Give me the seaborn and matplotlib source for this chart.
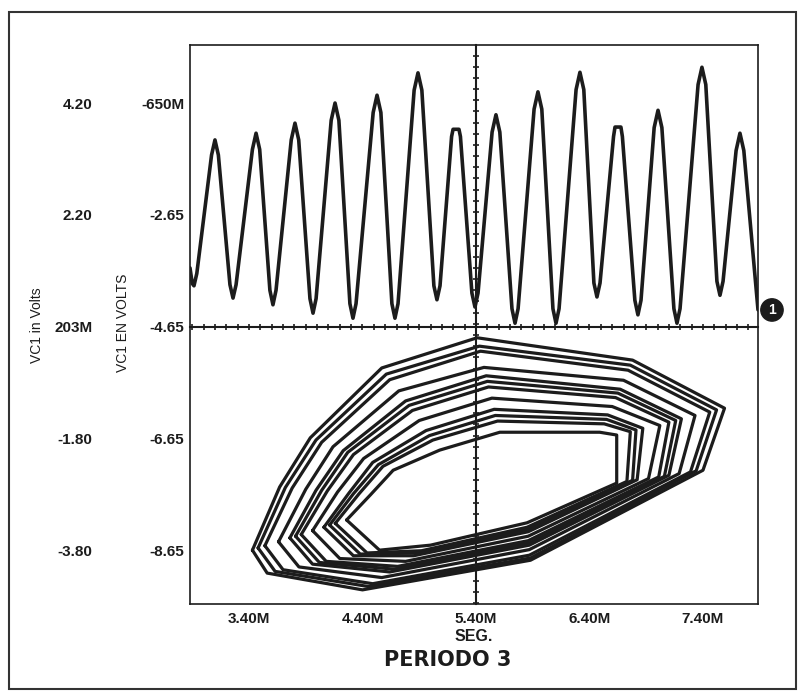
import pandas as pd
import seaborn as sns
import matplotlib.pyplot as plt
from matplotlib.patches import Rectangle
from matplotlib.ticker import MultipleLocator, NullFormatter

# 1. Datos
# Onda VC1 (arriba): tiempo en ms ("M") y tension en V
wave_t = [2.880, 2.900, 2.915, 2.940,
          3.070, 3.100, 3.130, 3.232, 3.259, 3.286,
          3.430, 3.462, 3.494, 3.584, 3.611, 3.638,
          3.772, 3.805, 3.838, 3.937, 3.964, 3.991,
          4.124, 4.158, 4.192, 4.289, 4.316, 4.343,
          4.494, 4.528, 4.562, 4.659, 4.686, 4.713,
          4.855, 4.889, 4.923, 5.029, 5.056, 5.083,
          5.185, 5.198, 5.250, 5.263, 5.364, 5.391, 5.418,
          5.542, 5.576, 5.610, 5.717, 5.744, 5.771,
          5.912, 5.946, 5.980, 6.078, 6.105, 6.132,
          6.282, 6.316, 6.350, 6.439, 6.466, 6.493,
          6.612, 6.625, 6.677, 6.690, 6.800, 6.827, 6.854,
          6.970, 7.004, 7.038, 7.144, 7.171, 7.198,
          7.357, 7.391, 7.425, 7.523, 7.550, 7.577,
          7.692, 7.726, 7.760, 7.885]
wave_v = [-3.60, -3.88, -3.92, -3.70,
          -1.58, -1.31, -1.58, -3.90, -4.14, -3.90,
          -1.48, -1.19, -1.48, -4.00, -4.26, -4.00,
          -1.31, -1.01, -1.31, -4.15, -4.41, -4.15,
          -0.96, -0.65, -0.96, -4.24, -4.50, -4.24,
          -0.82, -0.51, -0.82, -4.24, -4.50, -4.24,
          -0.42, -0.11, -0.42, -3.92, -4.17, -3.92,
          -1.25, -1.12, -1.12, -1.25, -4.05, -4.30, -4.05,
          -1.17, -0.86, -1.17, -4.33, -4.59, -4.33,
          -0.76, -0.45, -0.76, -4.33, -4.59, -4.33,
          -0.41, -0.10, -0.41, -3.87, -4.12, -3.87,
          -1.25, -1.08, -1.08, -1.25, -4.18, -4.44, -4.18,
          -1.09, -0.78, -1.09, -4.33, -4.59, -4.33,
          -0.32, -0.01, -0.32, -3.84, -4.09, -3.84,
          -1.50, -1.19, -1.50, -4.35]

# Retrato de fase (abajo): un lazo por fila
phase_t = [
    [4.26, 4.47, 4.67, 5.08, 5.61, 6.49, 6.64, 6.64, 5.85, 5.00, 4.55],
    [4.16, 4.37, 4.58, 5.02, 5.59, 6.53, 6.76, 6.73, 5.85, 4.92, 4.44],
    [4.11, 4.32, 4.54, 4.99, 5.57, 6.55, 6.81, 6.78, 5.85, 4.89, 4.38],
    [4.06, 4.28, 4.49, 4.96, 5.56, 6.56, 6.87, 6.82, 5.86, 4.85, 4.32],
    [3.96, 4.18, 4.41, 4.90, 5.54, 6.60, 7.02, 6.92, 5.86, 4.78, 4.20],
    [3.86, 4.09, 4.32, 4.84, 5.51, 6.63, 7.10, 7.01, 5.86, 4.71, 4.08],
    [3.81, 4.04, 4.27, 4.81, 5.50, 6.65, 7.16, 7.06, 5.87, 4.68, 4.02],
    [3.76, 3.99, 4.23, 4.78, 5.49, 6.67, 7.21, 7.10, 5.87, 4.64, 3.96],
    [3.66, 3.90, 4.14, 4.72, 5.47, 6.70, 7.33, 7.19, 5.87, 4.57, 3.84],
    [3.54, 3.78, 4.04, 4.64, 5.44, 6.74, 7.46, 7.29, 5.87, 4.49, 3.70],
    [3.48, 3.72, 3.99, 4.61, 5.43, 6.76, 7.52, 7.34, 5.88, 4.45, 3.63],
    [3.43, 3.67, 3.94, 4.57, 5.41, 6.78, 7.59, 7.40, 5.88, 4.40, 3.56],
]
phase_v = [
    [-8.11, -7.66, -7.22, -6.86, -6.54, -6.54, -6.59, -7.45, -8.16, -8.56, -8.65],
    [-8.17, -7.64, -7.15, -6.68, -6.34, -6.39, -6.53, -7.42, -8.24, -8.66, -8.70],
    [-8.20, -7.64, -7.12, -6.60, -6.24, -6.31, -6.50, -7.40, -8.28, -8.70, -8.72],
    [-8.24, -7.63, -7.08, -6.51, -6.13, -6.23, -6.47, -7.39, -8.32, -8.75, -8.75],
    [-8.30, -7.61, -7.01, -6.33, -5.93, -6.08, -6.42, -7.37, -8.40, -8.85, -8.80],
    [-8.37, -7.59, -6.94, -6.15, -5.73, -5.92, -6.36, -7.34, -8.48, -8.94, -8.85],
    [-8.40, -7.58, -6.90, -6.06, -5.63, -5.84, -6.33, -7.33, -8.52, -8.99, -8.87],
    [-8.43, -7.58, -6.87, -5.98, -5.53, -5.77, -6.30, -7.31, -8.56, -9.04, -8.90],
    [-8.50, -7.56, -6.80, -5.80, -5.38, -5.61, -6.24, -7.28, -8.64, -9.14, -8.95],
    [-8.57, -7.54, -6.72, -5.60, -5.09, -5.43, -6.18, -7.25, -8.74, -9.25, -9.00],
    [-8.61, -7.53, -6.68, -5.50, -5.00, -5.34, -6.14, -7.23, -8.79, -9.30, -9.03],
    [-8.65, -7.52, -6.64, -5.39, -4.85, -5.25, -6.11, -7.22, -8.83, -9.36, -9.06],
]

# Etiquetas de los ejes
x_ticks = [3.40, 4.40, 5.40, 6.40, 7.40]
x_labels = ['3.40M', '4.40M', '5.40M', '6.40M', '7.40M']
y_ticks = [-0.65, -2.65, -4.65, -6.65, -8.65]
y_labels = ['-650M', '-2.65', '-4.65', '-6.65', '-8.65']
y2_ticks = [4.20, 2.20, 0.203, -1.80, -3.80]
y2_labels = ['4.20', '2.20', '203M', '-1.80', '-3.80']
y2_offset = 4.85  # VC1 in Volts = VC1 EN VOLTS + 4.85

rows = []
for i, (ts, vs) in enumerate(zip(phase_t, phase_v)):
    for t, v in zip(ts + ts[:1], vs + vs[:1]):
        rows.append({'lazo': i, 't': t, 'v': v})
df_phase = pd.DataFrame(rows)

# 2. Estilo
sns.set_theme(style="white")
plt.rcParams['font.family'] = ['Liberation Sans', 'DejaVu Sans']

fig = plt.figure(figsize=(8.07, 6.94), dpi=100)
ax = fig.add_axes([190 / 807, 90 / 694, 568 / 807, 559 / 694])
xlim = (2.880, 7.885)
ylim = (-9.613, 0.388)

ink = '#1c1c1c'

# 3. Trazos
sns.lineplot(x=wave_t, y=wave_v, sort=False, estimator=None, color=ink,
             linewidth=2.6, ax=ax)
sns.lineplot(data=df_phase, x='t', y='v', units='lazo', estimator=None,
             sort=False, color=ink, linewidth=2.3, ax=ax, legend=False)

ax.set_xlim(*xlim)
ax.set_ylim(*ylim)
for s in ax.spines.values():
    s.set_color(ink)
    s.set_linewidth(1.2)

ax.set_xticks(x_ticks, x_labels)
ax.set_yticks(y_ticks, y_labels)
ax.tick_params(axis='both', length=0, labelsize=11, colors=ink)
ax.tick_params(axis='x', pad=6)
ax.tick_params(axis='y', pad=4)
for lab in ax.get_xticklabels() + ax.get_yticklabels():
    lab.set_fontweight('bold')

ax.set_xlabel('SEG.', fontsize=11.5, fontweight='bold', color=ink, labelpad=2)
ax.set_ylabel('VC1 EN VOLTS', fontsize=10, color=ink)
ax.yaxis.set_label_coords(-0.106, 0.503)

# Segunda escala a la izquierda
sec = ax.secondary_yaxis(-0.162, functions=(lambda y: y + y2_offset,
                                            lambda y: y - y2_offset))
sec.set_yticks(y2_ticks, y2_labels)
sec.tick_params(length=0, labelsize=11, colors=ink, pad=4)
sec.spines['left'].set_visible(False)
for lab in sec.get_yticklabels():
    lab.set_fontweight('bold')
fig.text(37 / 807, 1 - 325 / 694, 'VC1 in Volts', rotation=90, fontsize=10,
         color=ink, ha='center', va='center')

# Ejes en cruz con marcas
axc = fig.add_axes(ax.get_position(), facecolor='none')
axc.set_xlim(*xlim)
axc.set_ylim(*ylim)
axc.spines['left'].set_position(('data', 5.40))
axc.spines['bottom'].set_position(('data', -4.65))
axc.spines['top'].set_visible(False)
axc.spines['right'].set_visible(False)
for s in ('left', 'bottom'):
    axc.spines[s].set_color(ink)
    axc.spines[s].set_linewidth(1.5)
axc.xaxis.set_major_locator(MultipleLocator(0.1))
axc.yaxis.set_major_locator(MultipleLocator(0.2))
axc.xaxis.set_major_formatter(NullFormatter())
axc.yaxis.set_major_formatter(NullFormatter())
axc.tick_params(direction='inout', length=5, width=1.2, colors=ink,
                bottom=True, left=True)

# Marcador "1"
ax.text(1.0246, 0.526, '1', transform=ax.transAxes, ha='center', va='center',
        color='white', fontsize=10, fontweight='bold', clip_on=False,
        bbox=dict(boxstyle='circle,pad=0.3', fc=ink, ec=ink))

# 4. Titulo y marco exterior
fig.text(448 / 807, 1 - 660 / 694, 'PERIODO 3', ha='center', va='center',
         fontsize=15, fontweight='bold', family=['DejaVu Sans'], color=ink)
fig.patches.append(Rectangle((9 / 807, 1 - 689 / 694), 787 / 807, 677 / 694,
                             transform=fig.transFigure, fill=False,
                             edgecolor='#333333', linewidth=1.5))

fig.savefig('out.png', dpi=100)
